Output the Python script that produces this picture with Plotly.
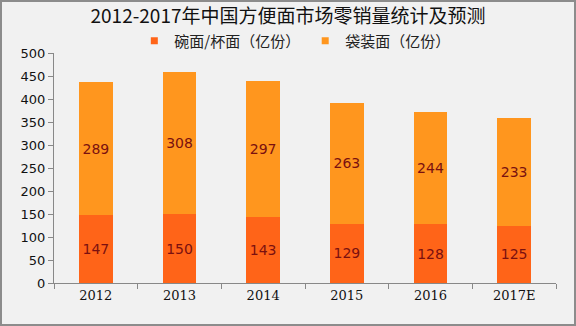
import plotly.graph_objects as go

years = ["2012", "2013", "2014", "2015", "2016", "2017E"]
bowl_cup = [147, 150, 143, 129, 128, 125]
bagged = [289, 308, 297, 263, 244, 233]
y_ticks = [0, 50, 100, 150, 200, 250, 300, 350, 400, 450, 500]
names = ["碗面/杯面（亿份）", "袋装面（亿份）"]
colors = ["#ff6418", "#ff961e"]

W, H = 576, 326
ml, mr, mt, mb = 54, 20, 53, 43
pw, ph = W - ml - mr, H - mt - mb

fig = go.Figure()
for vals, name, col in [(bowl_cup, names[0], colors[0]), (bagged, names[1], colors[1])]:
    fig.add_trace(go.Bar(
        x=years, y=vals, name=name, showlegend=False,
        marker=dict(color=col, line=dict(width=0)),
        text=vals, textposition="inside", insidetextanchor="middle",
        textfont=dict(color="#7a1010", size=14, family="DejaVu Sans"),
    ))
for name, col in zip(names, colors):
    fig.add_trace(go.Scatter(
        x=[None], y=[None], mode="markers", name=name,
        marker=dict(symbol="square", size=7, color=col),
    ))

fig.update_layout(
    width=W, height=H,
    barmode="stack", bargap=0.6,
    margin=dict(l=ml, r=mr, t=mt, b=mb),
    paper_bgcolor="#f1f1f1", plot_bgcolor="#f1f1f1",
    font=dict(family="Noto Sans CJK SC", color="#111111"),
    title=dict(text="2012-2017年中国方便面市场零销量统计及预测",
               x=0.5, xanchor="center", y=0.95, yanchor="middle",
               font=dict(size=19, color="#111111", family="Noto Sans CJK SC")),
    legend=dict(orientation="h", x=0.16, xanchor="left", y=1.0 + 12 / ph, yanchor="middle",
                font=dict(size=15, color="#222222"), bgcolor="rgba(0,0,0,0)",
                itemwidth=30, traceorder="normal", itemsizing="trace"),
    showlegend=True,
    uniformtext=dict(mode="show", minsize=8),
)
fig.update_xaxes(
    showline=True, linecolor="#888888", linewidth=1,
    ticks="outside", tickson="boundaries", ticklen=5, tickcolor="#888888",
    tickfont=dict(size=13, family="DejaVu Serif", color="#111111"),
    showgrid=False,
)
fig.update_yaxes(
    range=[0, 500], tickvals=y_ticks,
    showline=True, linecolor="#888888", linewidth=1,
    ticks="outside", ticklen=5, tickcolor="#888888",
    tickfont=dict(size=13, family="DejaVu Sans", color="#111111"),
    showgrid=False, zeroline=False,
)
fig.add_shape(type="rect", xref="paper", yref="paper",
              x0=-(ml - 1) / pw, x1=1 + (mr - 1) / pw,
              y0=-(mb - 1) / ph, y1=1 + (mt - 1) / ph,
              line=dict(color="#8c8c8c", width=2), fillcolor="rgba(0,0,0,0)", layer="below")

fig.write_html("out.html")
